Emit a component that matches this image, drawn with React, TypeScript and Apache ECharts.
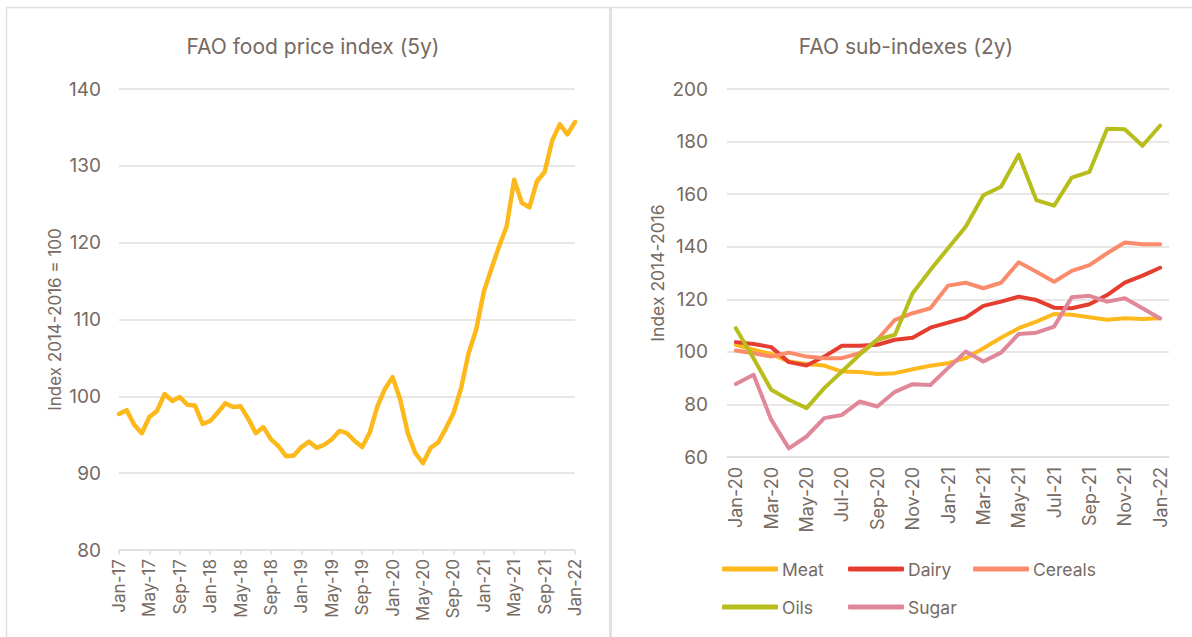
import React, { useEffect, useRef } from "react";
import * as echarts from "echarts";

const fpiMonths = [
  "Jan-17","Feb-17","Mar-17","Apr-17","May-17","Jun-17","Jul-17","Aug-17","Sep-17","Oct-17","Nov-17","Dec-17",
  "Jan-18","Feb-18","Mar-18","Apr-18","May-18","Jun-18","Jul-18","Aug-18","Sep-18","Oct-18","Nov-18","Dec-18",
  "Jan-19","Feb-19","Mar-19","Apr-19","May-19","Jun-19","Jul-19","Aug-19","Sep-19","Oct-19","Nov-19","Dec-19",
  "Jan-20","Feb-20","Mar-20","Apr-20","May-20","Jun-20","Jul-20","Aug-20","Sep-20","Oct-20","Nov-20","Dec-20",
  "Jan-21","Feb-21","Mar-21","Apr-21","May-21","Jun-21","Jul-21","Aug-21","Sep-21","Oct-21","Nov-21","Dec-21",
  "Jan-22",
];
const fpiValues = [
  97.7, 98.2, 96.3, 95.2, 97.3, 98.1, 100.3, 99.4, 99.9, 98.9, 98.8, 96.4,
  96.8, 97.9, 99.1, 98.6, 98.7, 97.1, 95.2, 96.0, 94.4, 93.5, 92.2, 92.3,
  93.4, 94.1, 93.3, 93.7, 94.4, 95.5, 95.2, 94.2, 93.4, 95.3, 98.7, 101.0,
  102.5, 99.6, 95.2, 92.6, 91.3, 93.3, 94.0, 95.8, 97.8, 101.0, 105.6, 108.7,
  113.6, 116.6, 119.5, 122.1, 128.2, 125.2, 124.6, 128.0, 129.2, 133.3, 135.4, 134.1,
  135.7,
];

const subMonths = [
  "Jan-20","Feb-20","Mar-20","Apr-20","May-20","Jun-20","Jul-20","Aug-20","Sep-20","Oct-20","Nov-20","Dec-20",
  "Jan-21","Feb-21","Mar-21","Apr-21","May-21","Jun-21","Jul-21","Aug-21","Sep-21","Oct-21","Nov-21","Dec-21",
  "Jan-22",
];
const meat = [102.7, 100.8, 99.2, 96.3, 95.4, 94.8, 92.5, 92.3, 91.6, 91.9, 93.4, 94.7, 95.7, 97.6, 101.4, 105.4, 109.0, 111.5, 114.4, 114.1, 113.2, 112.2, 112.8, 112.5, 112.8];
const dairy = [103.7, 103.0, 101.8, 96.1, 94.8, 98.2, 102.3, 102.3, 102.7, 104.6, 105.4, 109.2, 111.1, 113.0, 117.5, 119.1, 121.0, 119.7, 116.8, 116.6, 118.1, 121.6, 126.3, 129.0, 132.0];
const cereals = [100.5, 99.5, 98.2, 99.7, 98.2, 97.6, 97.6, 99.5, 104.6, 112.2, 114.7, 116.6, 125.2, 126.3, 124.2, 126.3, 134.1, 130.5, 126.7, 130.8, 133.0, 137.5, 141.6, 140.9, 140.9];
const oils = [109.0, 97.6, 85.6, 81.8, 78.6, 86.2, 92.5, 98.9, 104.6, 106.5, 122.3, 131.1, 139.4, 147.6, 159.6, 162.8, 175.0, 157.7, 155.6, 166.3, 168.5, 184.9, 184.7, 178.4, 186.1];
const sugar = [87.8, 91.3, 74.2, 63.3, 67.8, 74.8, 76.0, 81.1, 79.2, 84.8, 87.7, 87.4, 93.8, 100.1, 96.3, 99.7, 106.8, 107.3, 109.6, 120.8, 121.3, 119.1, 120.4, 116.6, 112.7];

const leftTicks = { min: 80, max: 140, interval: 10 };
const rightTicks = { min: 60, max: 200, interval: 20 };

const TEXT = "#766a62";
const GRID = "#e2dedb";
const FRAME = "#e4e0dd";
const FONT = "Inter, 'Open Sans', sans-serif";

const COLORS = {
  fpi: "#FDB81C",
  Meat: "#FDB81C",
  Dairy: "#E53D2F",
  Cereals: "#FA8C6C",
  Oils: "#B7BD1A",
  Sugar: "#E08799",
};

export default function App() {
  const ref = useRef<HTMLDivElement>(null);
  useEffect(() => {
    const chart = echarts.init(ref.current!, null, { renderer: "svg" });
    const subSeries = [
      { name: "Meat", data: meat },
      { name: "Dairy", data: dairy },
      { name: "Cereals", data: cereals },
      { name: "Oils", data: oils },
      { name: "Sugar", data: sugar },
    ];
    const legendBase = {
      icon: "roundRect",
      itemWidth: 56,
      itemHeight: 5,
      itemGap: 0,
      padding: 0,
      selectedMode: false,
      textStyle: { color: TEXT, fontSize: 17.5, fontFamily: FONT, padding: [0, 0, 0, -1] },
    };
    chart.setOption({
      animation: false,
      backgroundColor: "#ffffff",
      textStyle: { fontFamily: FONT },
      title: [
        {
          text: "FAO food price index (5y)",
          left: 308,
          top: 31,
          textAlign: "center",
          textStyle: { color: TEXT, fontSize: 21, fontWeight: "normal", fontFamily: FONT },
        },
        {
          text: "FAO sub-indexes (2y)",
          left: 901,
          top: 31,
          textAlign: "center",
          textStyle: { color: TEXT, fontSize: 21, fontWeight: "normal", fontFamily: FONT },
        },
      ],
      legend: [
        { ...legendBase, left: 722, top: 560, data: ["Meat"] },
        { ...legendBase, left: 848, top: 560, data: ["Dairy"] },
        { ...legendBase, left: 973, top: 560, data: ["Cereals"] },
        { ...legendBase, left: 722, top: 598, data: ["Oils"] },
        { ...legendBase, left: 848, top: 598, data: ["Sugar"] },
      ],
      grid: [
        { left: 119, top: 89, width: 456, height: 461 },
        { left: 727, top: 89, width: 442, height: 368 },
      ],
      xAxis: [
        {
          type: "category",
          gridIndex: 0,
          data: fpiMonths,
          boundaryGap: false,
          axisLine: { lineStyle: { color: GRID, width: 1.5 } },
          axisTick: { show: true, interval: 3, length: 5, lineStyle: { color: GRID, width: 1.5 } },
          axisLabel: { interval: 3, rotate: 90, color: TEXT, fontSize: 17, margin: 9, fontFamily: FONT },
        },
        {
          type: "category",
          gridIndex: 1,
          data: subMonths,
          boundaryGap: true,
          axisLine: { lineStyle: { color: GRID, width: 1.5 } },
          axisTick: { show: false },
          axisLabel: { interval: 1, rotate: 90, color: TEXT, fontSize: 18, margin: 10, fontFamily: FONT },
        },
      ],
      yAxis: [
        {
          type: "value",
          gridIndex: 0,
          ...leftTicks,
          axisLine: { show: false },
          axisTick: { show: false },
          splitLine: { lineStyle: { color: GRID, width: 1.5 } },
          axisLabel: { color: TEXT, fontSize: 19, margin: 18, fontFamily: FONT },
          name: "Index 2014-2016 = 100",
          nameLocation: "middle",
          nameGap: 56,
          nameTextStyle: { color: TEXT, fontSize: 17, fontFamily: FONT },
        },
        {
          type: "value",
          gridIndex: 1,
          ...rightTicks,
          axisLine: { show: false },
          axisTick: { show: false },
          splitLine: { lineStyle: { color: GRID, width: 1.5 } },
          axisLabel: { color: TEXT, fontSize: 19, margin: 19, fontFamily: FONT },
          name: "Index 2014-2016",
          nameLocation: "middle",
          nameGap: 61,
          nameTextStyle: { color: TEXT, fontSize: 17.5, fontFamily: FONT },
        },
      ],
      series: [
        {
          name: "FAO food price index",
          type: "line",
          xAxisIndex: 0,
          yAxisIndex: 0,
          data: fpiValues,
          showSymbol: false,
          color: COLORS.fpi,
          lineStyle: { width: 4.5, color: COLORS.fpi, join: "round", cap: "round" },
        },
        ...subSeries.map((s) => ({
          name: s.name,
          type: "line",
          xAxisIndex: 1,
          yAxisIndex: 1,
          data: s.data,
          showSymbol: false,
          color: (COLORS as any)[s.name],
          lineStyle: { width: 4, color: (COLORS as any)[s.name], join: "round", cap: "round" },
        })),
      ],
      graphic: [
        { type: "line", shape: { x1: 6, y1: 7.5, x2: 1192, y2: 7.5 }, style: { stroke: FRAME, lineWidth: 1.5 }, silent: true },
        { type: "line", shape: { x1: 6.5, y1: 7, x2: 6.5, y2: 637 }, style: { stroke: FRAME, lineWidth: 1.5 }, silent: true },
        { type: "line", shape: { x1: 610.5, y1: 7, x2: 610.5, y2: 637 }, style: { stroke: FRAME, lineWidth: 3 }, silent: true },
      ],
    });
    return () => chart.dispose();
  }, []);
  return (
    <div
      ref={ref}
      style={{ position: "fixed", left: 0, top: 0, width: 1192, height: 637, background: "#fff" }}
    />
  );
}
